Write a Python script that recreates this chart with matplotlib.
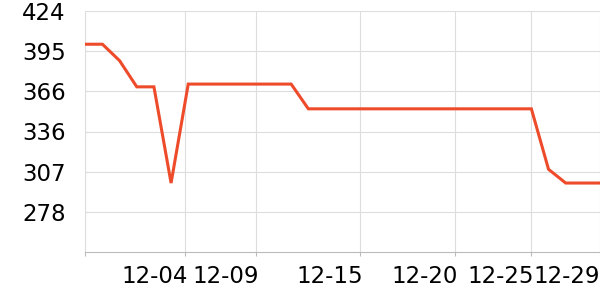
import matplotlib
matplotlib.use("Agg")
import matplotlib.pyplot as plt

# ── Data ───────────────────────────────────────────────────────────────────
values = [400, 400, 388, 369, 369, 299, 371, 371, 371, 371, 371, 371, 371,
          353, 353, 353, 353, 353, 353, 353, 353, 353, 353, 353, 353, 353, 353,
          309, 299, 299, 299]
tick_pos = [0, 5.83, 9.97, 16.03, 21.56, 26.0, 30]
tick_labels = ["", "12-04", "12-09", "12-15", "12-20", "12-25", "12-29"]
ytick_pos = [424.4, 395.1, 365.8, 336.5, 307.2, 277.9]
ytick_labels = ["424", "395", "366", "336", "307", "278"]

# ── Plot ───────────────────────────────────────────────────────────────────
fig = plt.figure(figsize=(6, 3), dpi=100)
ax = fig.add_axes([85.3 / 600, (300 - 252.3) / 300, 1 - 85.3 / 600, (252.3 - 10.7) / 300])

ax.plot(range(len(values)), values, color="#ee4b2b", lw=2.2, solid_joinstyle="miter", zorder=3)

ax.set_xlim(0, len(values) - 1)
ax.set_ylim(248.6, 424.4)
ax.set_xticks(tick_pos)
ax.set_xticklabels([])
ax.set_yticks(ytick_pos)
ax.set_yticklabels(ytick_labels, fontsize=16.5)

# x labels right-aligned to their tick (last one kept inside the figure)
for i, (pos, lbl) in enumerate(zip(tick_pos, tick_labels)):
    dx = 0 if i == len(tick_pos) - 1 else 1.8
    ax.annotate(lbl, xy=(pos, 0), xycoords=("data", "axes fraction"),
                xytext=(dx, -9.5), textcoords="offset points",
                ha="right", va="top", fontsize=16.5, annotation_clip=False)

ax.grid(color="#dddddd", lw=0.8)
for s in ["top", "right"]:
    ax.spines[s].set_visible(False)
ax.spines["left"].set_color("#dddddd")
ax.spines["bottom"].set_color("#bbbbbb")
ax.tick_params(axis="y", length=0, pad=14)
ax.tick_params(axis="x", length=3, color="#bbbbbb")

fig.savefig("out.png", dpi=100)
